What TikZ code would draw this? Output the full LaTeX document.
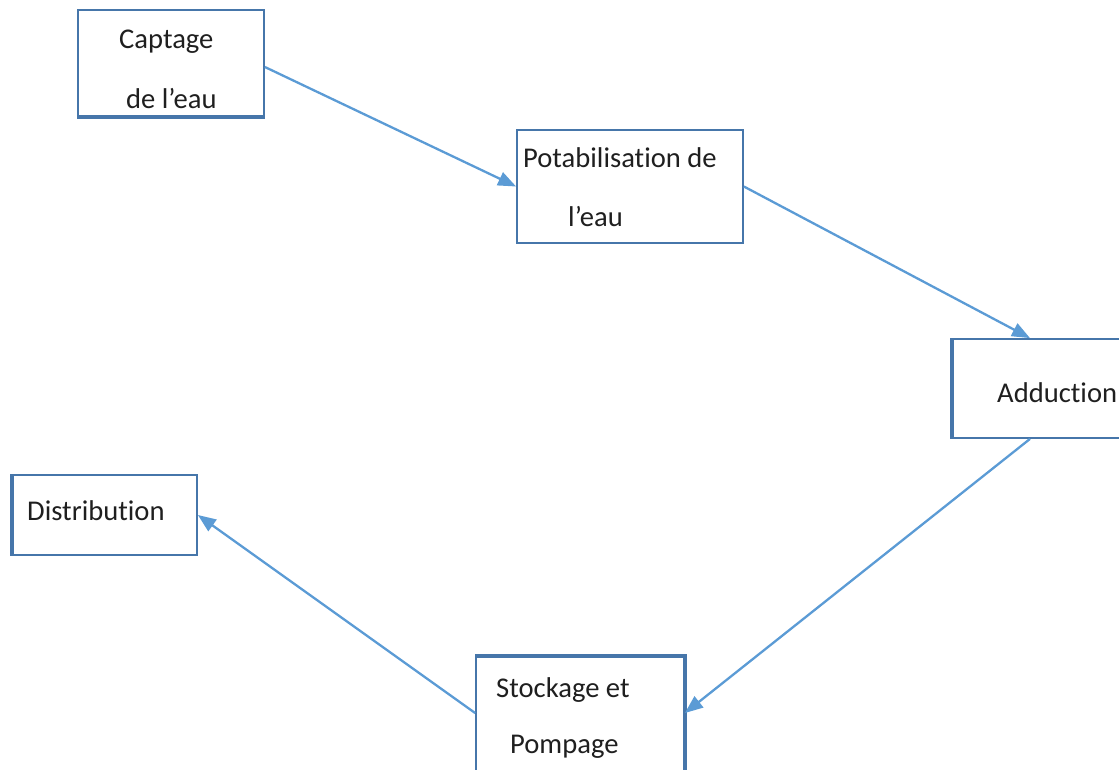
\documentclass[tikz,border=0pt]{standalone}
\usepackage{fontspec}
\setmainfont{Carlito}[Ligatures={NoCommon,NoRare,NoContextual}]
\usetikzlibrary{arrows.meta}
\definecolor{boxblue}{RGB}{70,118,170}
\definecolor{arrowblue}{RGB}{91,155,213}
\begin{document}
\begin{tikzpicture}[x=1pt,y=-1pt,
  box/.style={draw=boxblue,line width=1.8pt,inner sep=0pt,rectangle},
  thick edge/.style={draw=boxblue,line width=3.4pt},
  lbl/.style={anchor=base west,inner sep=0pt,text=black!88,font=\fontsize{28.6}{34}\selectfont},
  flow/.style={draw=arrowblue,line width=2.3pt,-{Triangle[length=18pt,width=14pt]}}]
\useasboundingbox (0,0) rectangle (1119,769);
% boxes
\node[box,minimum width=186pt,minimum height=106pt] (cap) at (171,63) {};
\node[box,minimum width=226pt,minimum height=113pt] (pot) at (630,186.5) {};
\node[box,minimum width=172pt,minimum height=99pt] (add) at (1039,388.5) {};
\node[box,minimum width=184pt,minimum height=80pt] (dis) at (105,515) {};
\node[box,minimum width=208pt,minimum height=118pt] (sto) at (580,716) {};
% heavier edges
\draw[thick edge] (cap.south west) -- (cap.south east);
\draw[thick edge] (add.south west) -- (add.north west);
\draw[thick edge] (dis.south west) -- (dis.north west);
\draw[thick edge] (sto.north west) -- (sto.north east) -- (sto.south east);
% texts
\node[lbl] (t1) at (119,48) {Captage};
\node[lbl] (t2) at (126,108) {de l’eau};
\node[lbl] (t3) at (523,167) {Potabilisation de};
\node[lbl] (t4) at (568,226) {l’eau};
\node[lbl] (t5) at (997,402) {Adduction};
\node[lbl] (t6) at (27,520) {Distribution};
\node[lbl] (t7) at (496,697) {Stockage et};
\node[lbl] (t8) at (510,753) {Pompage};
% connectors
\draw[flow] ([yshift=-4pt]cap.east) -- (pot.west);
\draw[flow] (pot.east) -- ([xshift=-9pt]add.north);
\draw[flow] ([xshift=-9pt]add.south) -- ([yshift=3pt]sto.east);
\draw[flow] ([yshift=3pt]sto.west) -- (dis.east);
\end{tikzpicture}
\end{document}
